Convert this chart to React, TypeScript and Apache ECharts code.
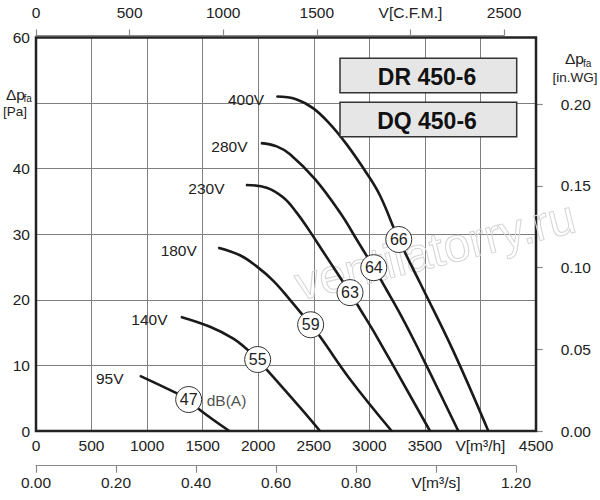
import React, { useEffect, useRef } from "react";
import * as echarts from "echarts";

const FONT = '"Liberation Sans", Arial, Helvetica, sans-serif';

// Fan curves: [airflow m³/h, static pressure Pa]
const voltages = ["95V", "140V", "180V", "230V", "280V", "400V"];
const curve95V = [[936, 8.4], [1236, 6.0], [1374, 4.8], [1476, 3.2], [1740, 0]];
const curve140V = [[1305, 17.4], [1566, 15.9], [1776, 14.1], [1896, 12.5], [1995, 10.9], [2376, 3.6], [2556, 0]];
const curve180V = [[1641, 27.95], [1836, 26.8], [1986, 25.1], [2136, 22.9], [2286, 20.0], [2472, 16.2], [2556, 14.4], [2826, 7.9], [3201, 0]];
const curve230V = [[1890, 37.5], [2076, 37.1], [2226, 35.6], [2346, 33.3], [2466, 30.4], [2586, 27.3], [2706, 24.2], [2826, 21.1], [2916, 18.6], [3066, 14.4], [3546, 0]];
const curve280V = [[2025, 43.9], [2166, 43.4], [2286, 42.2], [2511, 38.4], [2736, 33.3], [2886, 29.2], [3040, 24.9], [3156, 21.5], [3276, 17.9], [3426, 13.0], [3801, 0]];
const curve400V = [[2166, 51.0], [2340, 50.6], [2496, 49.2], [2646, 46.8], [2796, 43.7], [2976, 39.3], [3096, 35.9], [3265, 29.2], [3456, 22.6], [3753, 12.3], [4071, 0]];
const curves = [curve95V, curve140V, curve180V, curve230V, curve280V, curve400V];

// Sound levels dB(A) marked on the curves
const dbValues = [47, 55, 59, 63, 64, 66];
const dbPoints = [[1374, 4.8], [1995, 10.9], [2472, 16.2], [2826, 21.1], [3040, 24.9], [3265, 29.2]];

// Axis scales
const flowM3h = { min: 0, max: 4500, step: 500, nameAt: 4000, name: "V[m³/h]" };
const flowCFM = { min: 0, max: 2500, step: 500, nameAt: 2000, name: "V[C.F.M.]" };
const flowM3s = { min: 0, max: 1.2, step: 0.2, nameAt: 1.0, name: "V[m³/s]" };
const pressPa = { min: 0, max: 60, step: 10, hiddenLabel: 50 };
const pressInWG = { min: 0, max: 0.2, step: 0.05 };

const models = ["DR 450-6", "DQ 450-6"];

// label gaps (px) between voltage text and curve start
const labelGaps = [16, 13, 21, 21, 13, 12];

const TXT = "#222";
const AXC = "#8a8a8a";
const GRIDC = "#7f7f7f";

export default function App() {
  const ref = useRef<HTMLDivElement>(null);

  useEffect(() => {
    if (!ref.current) return;
    const chart = echarts.init(ref.current, undefined, { renderer: "svg" });

    const lab = { fontSize: 15.5, color: TXT, fontFamily: FONT };

    const lineSeries = curves.map((c, i) => ({
      type: "line",
      xAxisIndex: 0,
      yAxisIndex: 0,
      smooth: 0.4,
      symbol: "circle",
      symbolSize: 1,
      showSymbol: true,
      itemStyle: { color: "#1a1a1a" },
      lineStyle: { color: "#1a1a1a", width: 2.6 },
      z: 3,
      silent: true,
      data: c.map((p, j) =>
        j === 0
          ? {
              value: p,
              label: {
                show: true,
                position: "left",
                distance: labelGaps[i],
                offset: [0, 3],
                formatter: voltages[i],
                ...lab,
              },
            }
          : { value: p, label: { show: false } }
      ),
    }));

    const option: any = {
      animation: false,
      textStyle: { fontFamily: FONT },
      grid: [
        { left: 36, top: 37.5, width: 500, height: 393.5, show: true, borderColor: "#222", borderWidth: 2.5, backgroundColor: "transparent", z: 1 },
        { left: 36, top: 25.5, width: 468, height: 10, show: false },
        { left: 36, top: 455.7, width: 480, height: 10, show: false },
        { left: 536.7, top: 104.3, width: 10, height: 326.7, show: false },
      ],
      xAxis: [
        {
          gridIndex: 0,
          type: "value",
          min: flowM3h.min,
          max: flowM3h.max,
          interval: flowM3h.step,
          axisLine: { show: false },
          axisTick: { show: false },
          splitLine: { show: true, lineStyle: { color: GRIDC, width: 1 } },
          axisLabel: {
            margin: 6,
            ...lab,
            formatter: (v: number) => (v === flowM3h.nameAt ? flowM3h.name : String(v)),
          },
        },
        {
          gridIndex: 1,
          type: "value",
          position: "top",
          min: flowCFM.min,
          max: flowCFM.max,
          interval: flowCFM.step,
          axisLine: { show: true, lineStyle: { color: AXC, width: 1.2 } },
          axisTick: { show: true, length: 6, lineStyle: { color: AXC, width: 1.2 } },
          splitLine: { show: false },
          axisLabel: {
            margin: 5,
            ...lab,
            formatter: (v: number) => (v === flowCFM.nameAt ? flowCFM.name : String(v)),
          },
        },
        {
          gridIndex: 2,
          type: "value",
          position: "bottom",
          min: flowM3s.min,
          max: flowM3s.max,
          interval: flowM3s.step,
          axisLine: { show: true, lineStyle: { color: AXC, width: 1.2 } },
          axisTick: { show: true, length: 7, lineStyle: { color: AXC, width: 1.2 } },
          splitLine: { show: false },
          axisLabel: {
            margin: 9,
            ...lab,
            formatter: (v: number) => (Math.abs(v - flowM3s.nameAt) < 1e-6 ? flowM3s.name : v.toFixed(2)),
          },
        },
        { gridIndex: 3, type: "value", show: false },
      ],
      yAxis: [
        {
          gridIndex: 0,
          type: "value",
          min: pressPa.min,
          max: pressPa.max,
          interval: pressPa.step,
          axisLine: { show: false },
          axisTick: { show: false },
          splitLine: { show: true, lineStyle: { color: GRIDC, width: 1 } },
          axisLabel: {
            margin: 6,
            ...lab,
            formatter: (v: number) => (v === pressPa.hiddenLabel ? "" : String(v)),
          },
        },
        { gridIndex: 1, type: "value", show: false },
        { gridIndex: 2, type: "value", show: false },
        {
          gridIndex: 3,
          type: "value",
          position: "right",
          min: pressInWG.min,
          max: pressInWG.max,
          interval: pressInWG.step,
          axisLine: { show: true, lineStyle: { color: AXC, width: 1.2 } },
          axisTick: { show: true, length: 6, lineStyle: { color: AXC, width: 1.2 } },
          splitLine: { show: false },
          axisLabel: { margin: 14, ...lab, formatter: (v: number) => v.toFixed(2) },
        },
      ],
      series: [
        ...lineSeries,
        {
          type: "scatter",
          xAxisIndex: 0,
          yAxisIndex: 0,
          symbol: "circle",
          symbolSize: 26,
          z: 5,
          silent: true,
          itemStyle: { color: "#fff", borderColor: "#333", borderWidth: 1, opacity: 1 },
          label: { show: true, position: "inside", formatter: "{b}", fontSize: 16, color: TXT, fontFamily: FONT },
          data: dbPoints.map((p, i) => ({ value: p, name: String(dbValues[i]) })),
        },
        {
          type: "scatter",
          xAxisIndex: 0,
          yAxisIndex: 0,
          symbol: "circle",
          symbolSize: 26,
          z: 4,
          silent: true,
          itemStyle: { color: "rgba(0,0,0,0)" },
          label: { show: true, position: "right", distance: 5, formatter: "dB(A)", ...lab, offset: [0, 1] },
          data: [dbPoints[0]],
        },
      ],
      graphic: [
        {
          type: "text",
          x: 435,
          y: 250,
          rotation: (14 * Math.PI) / 180,
          z: 1,
          silent: true,
          style: {
            text: "ventilatorry.ru",
            fontSize: 48,
            fontFamily: FONT,
            fill: "none",
            stroke: "#d4d4d4",
            lineWidth: 1,
            align: "center",
            verticalAlign: "middle",
          },
        },
        // left axis title
        { type: "text", x: 6, y: 94, style: { text: "Δp", fontSize: 15.5, fontFamily: FONT, fill: TXT, align: "left", verticalAlign: "middle" } },
        { type: "text", x: 23.5, y: 98.5, style: { text: "fa", fontSize: 10, fontFamily: FONT, fill: TXT, align: "left", verticalAlign: "middle" } },
        { type: "text", x: 15, y: 111.5, style: { text: "[Pa]", fontSize: 13.5, fontFamily: FONT, fill: TXT, align: "center", verticalAlign: "middle" } },
        // right axis title
        { type: "text", x: 565, y: 58.5, style: { text: "Δp", fontSize: 15.5, fontFamily: FONT, fill: TXT, align: "left", verticalAlign: "middle" } },
        { type: "text", x: 583, y: 63, style: { text: "fa", fontSize: 10, fontFamily: FONT, fill: TXT, align: "left", verticalAlign: "middle" } },
        { type: "text", x: 575, y: 77, style: { text: "[in.WG]", fontSize: 13.5, fontFamily: FONT, fill: TXT, align: "center", verticalAlign: "middle" } },
        // model boxes
        ...models.flatMap((m, i) => [
          {
            type: "rect",
            z: 6,
            shape: { x: 340, y: 58.3 + i * 44, width: 176.7, height: 34.4 },
            style: { fill: "#e6e6e6", stroke: "#333", lineWidth: 1.5 },
          },
          {
            type: "text",
            z: 7,
            x: 427,
            y: 76.5 + i * 44,
            style: { text: m, fontSize: 23, fontWeight: "bold", fontFamily: FONT, fill: "#111", align: "center", verticalAlign: "middle" },
          },
        ]),
      ],
    };

    chart.setOption(option);
    return () => chart.dispose();
  }, []);

  return (
    <div
      ref={ref}
      style={{ position: "fixed", left: 0, top: 0, width: 600, height: 500, background: "#fff" }}
    />
  );
}
